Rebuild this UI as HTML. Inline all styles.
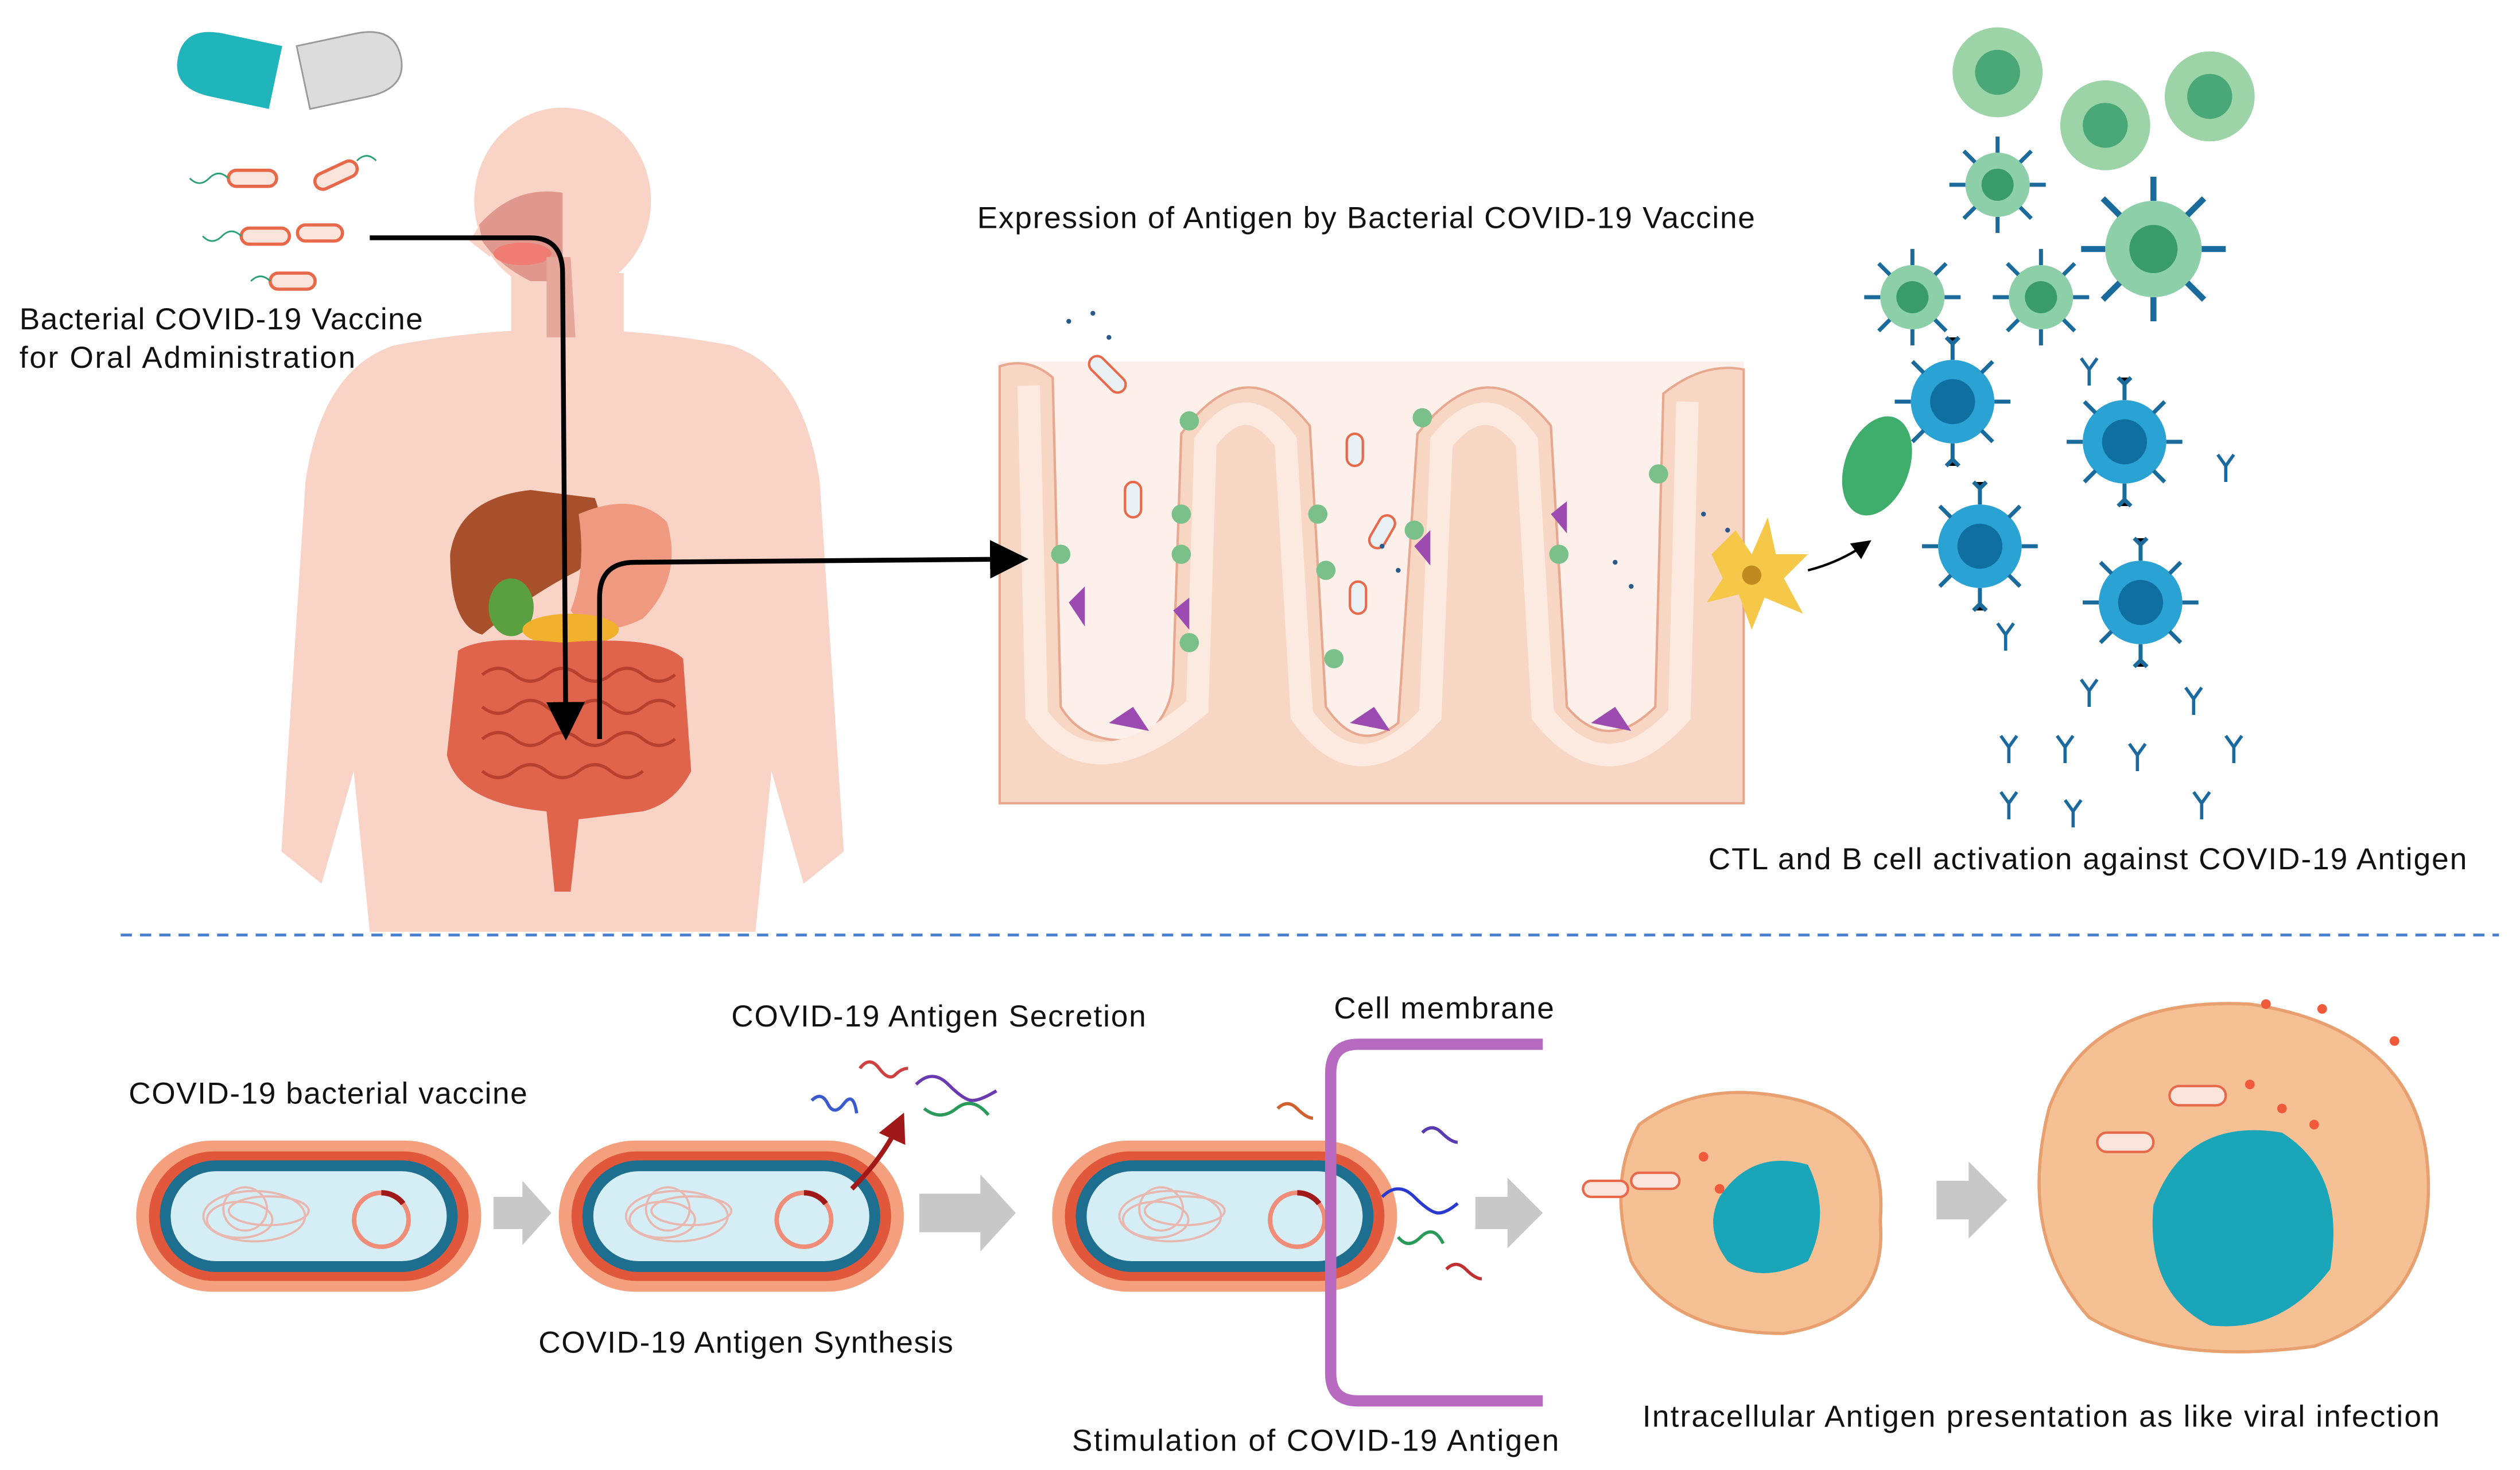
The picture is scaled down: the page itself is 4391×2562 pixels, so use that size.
<!DOCTYPE html>
<html><head><meta charset="utf-8"><style>
html,body{margin:0;padding:0;background:#fff}
svg{display:block}
text{font-family:"Liberation Sans","Noto Sans CJK KR",sans-serif;fill:#111}
</style></head><body>
<svg width="4391" height="2562" viewBox="0 0 1568 915" xmlns="http://www.w3.org/2000/svg">
<defs>
<marker id="ah" markerWidth="8" markerHeight="8" refX="6" refY="4" orient="auto" markerUnits="strokeWidth"><path d="M0,0 L8,4 L0,8 Z" fill="#000"/></marker>
<marker id="ar" markerWidth="6" markerHeight="6" refX="4" refY="3" orient="auto" markerUnits="strokeWidth"><path d="M0,0 L6,3 L0,6 Z" fill="#a01818"/></marker>
<g id="bac"><rect x="-95" y="-42" width="190" height="84" rx="42" fill="#f4a07e"/><rect x="-88" y="-36" width="176" height="72" rx="36" fill="#e0573c"/><rect x="-82" y="-31" width="164" height="62" rx="31" fill="#1e6f8f"/><rect x="-76" y="-25" width="152" height="50" rx="25" fill="#d5edf4"/><g fill="none" stroke="#e8b8b0" stroke-width="1.2"><ellipse cx="-30" cy="0" rx="28" ry="14"/><ellipse cx="-38" cy="2" rx="18" ry="10"/><ellipse cx="-22" cy="-3" rx="22" ry="8"/><ellipse cx="-35" cy="-4" rx="12" ry="12"/></g><circle cx="40" cy="2" r="15" fill="none" stroke="#ef8d78" stroke-width="2.5"/><path d="M40,-13 A15,15 0 0 1 52,-7" stroke="#a01818" stroke-width="3" fill="none"/></g>
<g id="tc"><circle r="26" fill="#2aa3d4"/><circle r="14" fill="#0e6fa0"/><g stroke="#1a6a9c" stroke-width="2.5"><path d="M0,-26v-10M-4,-40l4,4 4,-4M0,26v10M-4,40l4,-4 4,4M-26,0h-10M26,0h10M18,-18l7,-7M-18,-18l-7,-7M18,18l7,7M-18,18l-7,7"/></g></g>
<g id="gc"><circle r="20" fill="#8ccfa8"/><circle r="10" fill="#3a9c6c"/><g stroke="#1a6a9c" stroke-width="2.5"><path d="M0,-20v-10M0,20v10M-20,0h-10M20,0h10M14,-14l7,-7M-14,-14l-7,-7M14,14l7,7M-14,14l-7,7"/></g></g>
<g id="ab" stroke="#1a6aa0" stroke-width="2" fill="none"><path d="M0,10V0L-5,-7M0,0L5,-7"/></g>
</defs>
<!-- pills -->
<g transform="rotate(12 142 42)"><path d="M172,22 L135,22 Q110,22 110,42 Q110,62 135,62 L172,62Z" fill="#1fb5bb"/></g>
<g transform="rotate(-12 218 42)"><path d="M188,22 L225,22 Q250,22 250,42 Q250,62 225,62 L188,62Z" fill="#dcdcdc" stroke="#999" stroke-width="1"/></g>
<!-- bacteria small -->
<g fill="#fbe4dc" stroke="#e8684a" stroke-width="2"><rect x="142" y="106" width="30" height="10" rx="5"/><rect x="195" y="104" width="28" height="10" rx="5" transform="rotate(-25 209 109)"/><rect x="150" y="142" width="30" height="10" rx="5"/><rect x="185" y="140" width="28" height="10" rx="5"/><rect x="168" y="170" width="28" height="10" rx="5"/></g>
<g stroke="#2aa077" stroke-width="1" fill="none"><path d="M142,111 q-6,-6 -12,0 t-12,0"/><path d="M150,147 q-6,-6 -12,0 t-12,0"/><path d="M168,175 q-6,-6 -12,0"/><path d="M222,100 q6,-6 12,0"/></g>
<!-- body -->
<g fill="#f9d3c6">
<ellipse cx="350" cy="125" rx="55" ry="58"/>
<path d="M305,130 L292,150 L305,160 Z"/>
<rect x="318" y="170" width="70" height="50"/>
<path d="M245,215 Q350,195 455,215 Q500,230 510,300 L525,530 L500,550 L480,480 L470,580 L230,580 L220,480 L200,550 L175,530 L190,300 Q200,230 245,215Z"/>
</g>
<path d="M298,140 Q320,115 350,120 L350,175 L330,175 Q310,165 300,150Z" fill="#e0988e"/>
<ellipse cx="325" cy="158" rx="18" ry="7" fill="#ef7d74"/>
<path d="M340,160 L340,210 L358,210 L355,160Z" fill="#e7a89c"/>
<!-- organs -->
<path d="M280,345 Q285,310 330,305 L370,310 Q380,335 360,355 Q330,370 300,395 Q280,390 280,345Z" fill="#a8502c"/>
<path d="M360,320 Q395,305 415,325 Q425,360 400,385 Q370,400 355,380 Q365,355 360,320Z" fill="#ef9a80"/>
<ellipse cx="318" cy="378" rx="14" ry="18" fill="#5aa040"/>
<ellipse cx="355" cy="392" rx="30" ry="10" fill="#f2b12c"/>
<path d="M285,405 Q300,395 350,400 Q410,395 425,410 L430,480 Q420,500 400,505 L360,510 L355,555 L345,555 L340,505 Q285,500 278,470 Z" fill="#e0634c"/>
<g fill="none" stroke="#b8402e" stroke-width="2"><path d="M300,420 q10,-8 20,0 t20,0 t20,0 t20,0 t20,0 t20,0"/><path d="M300,440 q10,8 20,0 t20,0 t20,0 t20,0 t20,0 t20,0"/><path d="M300,460 q10,-8 20,0 t20,0 t20,0 t20,0 t20,0 t20,0"/><path d="M300,480 q10,8 20,0 t20,0 t20,0 t20,0 t20,0"/></g>
<text x="12" y="205" font-size="19" textLength="251">Bacterial COVID-19 Vaccine</text>
<text x="12" y="229" font-size="19" textLength="209">for Oral Administration</text>
<text x="608" y="142" font-size="19" textLength="484">Expression of Antigen by Bacterial COVID-19 Vaccine</text>
<!-- intestine -->
<rect x="622" y="225" width="463" height="275" fill="#fdf0ea"/>
<path d="M622,228 Q640,222 655,235 L660,440 Q675,465 710,460 Q730,445 730,420 L735,270 Q775,215 815,265 L825,440 Q845,470 870,450 L882,270 Q925,215 965,265 L975,440 Q1000,470 1030,440 L1035,245 Q1060,225 1085,230 L1085,500 L622,500Z" fill="#f8d6c4" stroke="#e8a890" stroke-width="1.5"/>
<path d="M640,240 L645,445 Q680,495 745,440 L750,275 Q775,240 800,275 L810,445 Q845,495 890,445 L897,275 Q925,240 950,275 L960,445 Q1000,495 1045,445 L1050,250" fill="none" stroke="#fce9df" stroke-width="14"/>
<g fill="#7bc08a"><circle cx="660" cy="345" r="6"/><circle cx="735" cy="320" r="6"/><circle cx="735" cy="345" r="6"/><circle cx="820" cy="320" r="6"/><circle cx="825" cy="355" r="6"/><circle cx="880" cy="330" r="6"/><circle cx="970" cy="345" r="6"/><circle cx="1032" cy="295" r="6"/><circle cx="740" cy="400" r="6"/><circle cx="830" cy="410" r="6"/><circle cx="885" cy="260" r="6"/><circle cx="740" cy="262" r="6"/></g>
<g fill="#9c4cb0"><path d="M665,375 l10,-10 0,25z"/><path d="M730,380 l10,-8 0,20z"/><path d="M880,340 l10,-10 0,22z"/><path d="M965,320 l10,-8 0,20z"/><path d="M690,450 l15,-10 10,15z"/><path d="M840,450 l15,-10 10,15z"/><path d="M990,450 l15,-10 10,15z"/></g>
<g fill="#e8f0f4" stroke="#e8684a" stroke-width="1.5"><rect x="675" y="228" width="28" height="10" rx="5" transform="rotate(45 689 233)"/><rect x="700" y="300" width="10" height="22" rx="5"/><rect x="838" y="270" width="10" height="20" rx="5"/><rect x="855" y="320" width="10" height="22" rx="5" transform="rotate(30 860 331)"/><rect x="840" y="362" width="10" height="20" rx="5"/></g>
<g fill="#2a5a8a"><circle cx="665" cy="200" r="1.5"/><circle cx="680" cy="195" r="1.5"/><circle cx="690" cy="210" r="1.5"/><circle cx="860" cy="340" r="1.5"/><circle cx="870" cy="355" r="1.5"/><circle cx="1005" cy="350" r="1.5"/><circle cx="1015" cy="365" r="1.5"/><circle cx="1060" cy="320" r="1.5"/><circle cx="1075" cy="330" r="1.5"/></g>
<!-- arrows -->
<path d="M230,148 L330,148 Q350,148 350,170 L352,455" fill="none" stroke="#000" stroke-width="3" marker-end="url(#ah)"/>
<path d="M373,460 L373,372 Q373,350 395,350 L634,348" fill="none" stroke="#000" stroke-width="3" marker-end="url(#ah)"/>
<!-- dendritic -->
<path d="M1065,345 L1080,330 L1090,345 L1100,322 L1105,345 L1125,345 L1110,360 L1122,382 L1098,372 L1090,392 L1082,370 L1062,375 L1072,360Z" fill="#f6c84a"/>
<circle cx="1090" cy="358" r="6" fill="#c08a20"/>
<path d="M1125,355 Q1145,350 1162,338" fill="none" stroke="#000" stroke-width="1.5" marker-end="url(#ah)"/>
<!-- immune -->
<g fill="#9cd4a8"><circle cx="1243" cy="45" r="28"/><circle cx="1310" cy="78" r="28"/><circle cx="1375" cy="60" r="28"/></g>
<g fill="#4aa878"><circle cx="1243" cy="45" r="14"/><circle cx="1310" cy="78" r="14"/><circle cx="1375" cy="60" r="14"/></g>
<use href="#gc" x="1243" y="115"/><use href="#gc" x="1190" y="185"/><use href="#gc" x="1270" y="185"/>
<g transform="translate(1340,155) scale(1.5)"><use href="#gc"/></g>
<ellipse cx="1168" cy="290" rx="20" ry="32" fill="#3fae6c" transform="rotate(20 1168 290)"/>
<use href="#tc" x="1215" y="250"/><use href="#tc" x="1322" y="275"/><use href="#tc" x="1232" y="340"/><use href="#tc" x="1332" y="375"/>
<use href="#ab" x="1300" y="230"/><use href="#ab" x="1385" y="290"/><use href="#ab" x="1365" y="435"/><use href="#ab" x="1250" y="465"/><use href="#ab" x="1285" y="465"/><use href="#ab" x="1330" y="470"/><use href="#ab" x="1390" y="465"/><use href="#ab" x="1250" y="500"/><use href="#ab" x="1290" y="505"/><use href="#ab" x="1370" y="500"/><use href="#ab" x="1300" y="430"/><use href="#ab" x="1248" y="395"/>
<text x="1063" y="541" font-size="19" textLength="472">CTL and B cell activation against COVID-19 Antigen</text>
<line x1="75" y1="582" x2="1555" y2="582" stroke="#4a80d0" stroke-width="1.8" stroke-dasharray="7,5"/>
<!-- bottom -->
<text x="80" y="687" font-size="19" textLength="248">COVID-19 bacterial vaccine</text>
<text x="455" y="639" font-size="19" textLength="258">COVID-19 Antigen Secretion</text>
<text x="830" y="634" font-size="19" textLength="137">Cell membrane</text>
<text x="335" y="842" font-size="19" textLength="258">COVID-19 Antigen Synthesis</text>
<text x="667" y="903" font-size="19" textLength="303">Stimulation of COVID-19 Antigen</text>
<text x="1022" y="888" font-size="19" textLength="496">Intracellular Antigen presentation as like viral infection</text>
<g transform="translate(192,757) scale(1.13,1.12)"><use href="#bac"/></g>
<g transform="translate(455,757) scale(1.13,1.12)"><use href="#bac"/></g>
<g transform="translate(762,757) scale(1.13,1.12)"><use href="#bac"/></g>
<path d="M960,650 L845,650 Q828,650 828,668 L828,855 Q828,872 845,872 L960,872" fill="none" stroke="#b86ac0" stroke-width="7"/>
<g fill="#c8c8c8"><path d="M307,745 h18 v-10 l18,20 -18,20 v-10 h-18z"/><path d="M572,743 h38 v-12 l22,24 -22,24 v-12 h-38z"/><path d="M918,745 h20 v-12 l22,22 -22,22 v-12 h-20z"/><path d="M1205,735 h20 v-12 l24,24 -24,24 v-12 h-20z"/></g>
<path d="M530,740 Q550,720 560,698" fill="none" stroke="#a01818" stroke-width="3" marker-end="url(#ar)"/>
<g fill="none" stroke-width="2"><path d="M505,685 q6,-6 10,2 t10,0 t8,6" stroke="#3a5ad0"/><path d="M535,665 q6,-8 12,0 t10,4 t8,-4" stroke="#d04040"/><path d="M570,675 q10,-10 20,0 t15,10 t15,-6" stroke="#6a3ab0"/><path d="M575,690 q10,8 20,0 t20,4" stroke="#2a9a5a"/><path d="M795,690 q6,-6 12,0 t10,6" stroke="#d06030"/><path d="M860,745 q10,-10 20,0 t15,10 t12,-6" stroke="#2a3ad0"/><path d="M885,705 q6,-6 12,0 t10,6" stroke="#5a3ab0"/><path d="M900,790 q6,-6 12,0 t10,6" stroke="#c03030"/><path d="M870,770 q6,8 14,0 t14,4" stroke="#2a9a5a"/></g>
<!-- cells -->
<path d="M1020,700 Q1060,670 1120,685 Q1175,700 1170,760 Q1175,820 1110,830 Q1040,830 1015,785 Q1000,735 1020,700Z" fill="#f4c094" stroke="#e8a070" stroke-width="2"/>
<path d="M1070,745 Q1090,715 1125,725 Q1140,755 1125,785 Q1095,800 1075,785 Q1060,765 1070,745Z" fill="#1aa6b8"/>
<path d="M1275,690 Q1300,620 1400,625 Q1500,640 1510,720 Q1520,810 1440,838 Q1350,850 1300,820 Q1255,770 1275,690Z" fill="#f4c094" stroke="#e8a070" stroke-width="2"/>
<path d="M1340,750 Q1360,695 1420,705 Q1460,730 1450,790 Q1420,830 1375,825 Q1335,805 1340,750Z" fill="#1aa6b8"/>
<g fill="#fbe4dc" stroke="#e8684a" stroke-width="1.5"><rect x="1015" y="730" width="30" height="10" rx="5"/><rect x="985" y="735" width="28" height="10" rx="5"/><rect x="1350" y="676" width="35" height="12" rx="6"/><rect x="1305" y="705" width="35" height="12" rx="6"/></g>
<g fill="#ef5a3a"><circle cx="1410" cy="625" r="3"/><circle cx="1445" cy="628" r="3"/><circle cx="1490" cy="648" r="3"/><circle cx="1400" cy="675" r="3"/><circle cx="1420" cy="690" r="3"/><circle cx="1440" cy="700" r="3"/><circle cx="1060" cy="720" r="3"/><circle cx="1070" cy="740" r="3"/></g>
</svg>
</body></html>
